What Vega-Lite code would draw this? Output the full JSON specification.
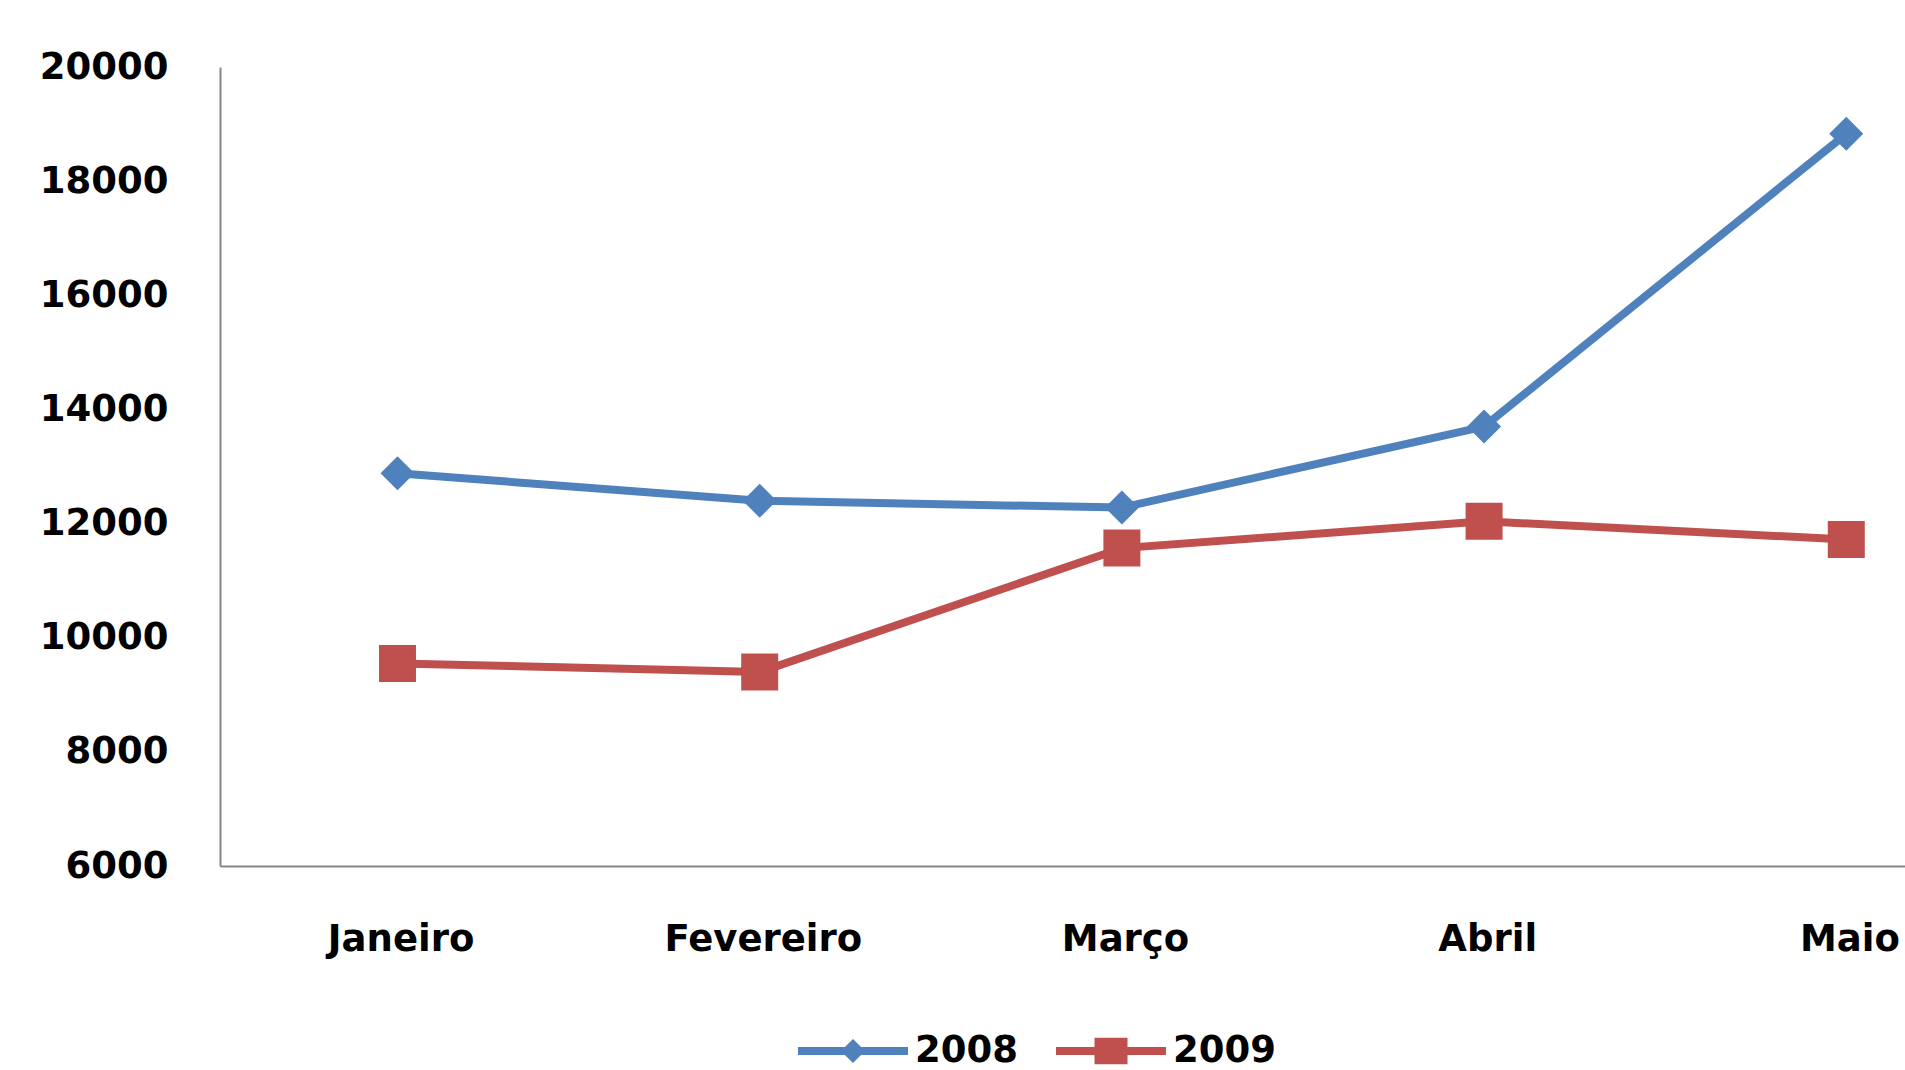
{
  "$schema": "https://vega.github.io/schema/vega-lite/v6.json",
  "width": 1685,
  "height": 799,
  "autosize": {"type": "none"},
  "padding": {"left": 220, "top": 67, "right": 0, "bottom": 204},
  "background": "white",
  "config": {"view": {"stroke": null}, "font": "DejaVu Sans"},
  "data": {
    "values": [
      {"mes": "Janeiro", "ano": "2008", "valor": 12880},
      {"mes": "Fevereiro", "ano": "2008", "valor": 12400},
      {"mes": "Março", "ano": "2008", "valor": 12280},
      {"mes": "Abril", "ano": "2008", "valor": 13700},
      {"mes": "Maio", "ano": "2008", "valor": 18830},
      {"mes": "Janeiro", "ano": "2009", "valor": 9550},
      {"mes": "Fevereiro", "ano": "2009", "valor": 9400},
      {"mes": "Março", "ano": "2009", "valor": 11570},
      {"mes": "Abril", "ano": "2009", "valor": 12040},
      {"mes": "Maio", "ano": "2009", "valor": 11720}
    ]
  },
  "encoding": {
    "x": {
      "field": "mes",
      "type": "ordinal",
      "sort": ["Janeiro", "Fevereiro", "Março", "Abril", "Maio"],
      "bandPosition": 0.49,
      "scale": {"type": "band", "range": [0, 1811], "paddingInner": 0, "paddingOuter": 0},
      "axis": {
        "title": null,
        "labelAngle": 0,
        "labelLimit": 0,
        "labelDx": -4,
        "ticks": false,
        "domainColor": "#868686",
        "domainWidth": 2,
        "labelFontSize": 37,
        "labelFontWeight": "bold",
        "labelColor": "#000000",
        "labelPadding": 55
      }
    },
    "y": {
      "field": "valor",
      "type": "quantitative",
      "scale": {"domain": [6000, 20000], "nice": false, "zero": false},
      "axis": {
        "title": null,
        "values": [6000, 8000, 10000, 12000, 14000, 16000, 18000, 20000],
        "format": "d",
        "grid": false,
        "ticks": false,
        "domainColor": "#868686",
        "domainWidth": 2,
        "labelFontSize": 37,
        "labelFontWeight": "bold",
        "labelColor": "#000000",
        "labelPadding": 52
      }
    },
    "color": {
      "field": "ano",
      "type": "nominal",
      "scale": {"domain": ["2008", "2009"], "range": ["#4F81BD", "#C0504D"]},
      "legend": {
        "orient": "none",
        "legendX": 578,
        "legendY": 929,
        "direction": "horizontal",
        "title": null,
        "labelFontSize": 37,
        "labelFontWeight": "bold",
        "labelColor": "#000000",
        "symbolSize": 12100,
        "labelOffset": 7,
        "columnPadding": 38,
        "symbolStrokeWidth": 0,
        "encode": {
          "symbols": {
            "update": {
              "shape": {"signal": "datum.value == '2008' ? 'M-1,-0.073L1,-0.073L1,0.073L-1,0.073Z M0,-0.22L0.22,0L0,0.22L-0.22,0Z' : 'M-1,-0.073L1,-0.073L1,0.073L-1,0.073Z M-0.3,-0.24L0.3,-0.24L0.3,0.24L-0.3,0.24Z'"},
              "fill": {"signal": "datum.value == '2008' ? '#4F81BD' : '#C0504D'"},
              "strokeWidth": {"value": 0},
              "opacity": {"value": 1}
            }
          }
        }
      }
    }
  },
  "layer": [
    {"mark": {"type": "line", "strokeWidth": 8}},
    {
      "mark": {"type": "point", "filled": true, "opacity": 1},
      "encoding": {
        "shape": {"condition": {"test": "datum.ano == '2008'", "value": "diamond"}, "value": "square"},
        "size": {"condition": {"test": "datum.ano == '2008'", "value": 1156}, "value": 1369}
      }
    }
  ]
}
